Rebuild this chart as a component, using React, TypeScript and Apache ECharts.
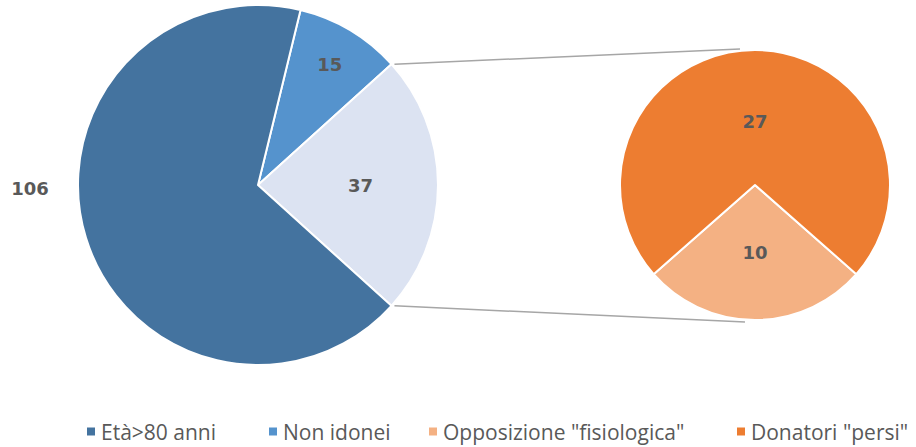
import React, { useEffect, useRef } from "react";
import * as echarts from "echarts";

const mainNames = ["Non idonei", "Altro", "Età>80 anni"];
const mainValues = [15, 37, 106];
const subNames = ['Opposizione "fisiologica"', 'Donatori "persi"'];
const subValues = [10, 27];
const legendNames = ["Età>80 anni", "Non idonei", 'Opposizione "fisiologica"', 'Donatori "persi"'];
const legendLefts = [85, 267, 427, 735];

const mainColors = ["#5593cd", "#dce3f2", "#44739f"];
const subColors = ["#f4b183", "#ed7d31"];

export default function App() {
  const ref = useRef<HTMLDivElement>(null);
  useEffect(() => {
    if (!ref.current) return;
    const chart = echarts.init(ref.current, null, { renderer: "svg" });
    const c1 = [258, 185];
    const r1 = 180;
    const c2 = [755, 185];
    const r2 = 135;
    const total1 = mainValues.reduce((a, b) => a + b, 0);
    const total2 = subValues.reduce((a, b) => a + b, 0);
    // "Altro" slice centered on 0 degrees
    const start1 = ((mainValues[1] / 2 + mainValues[0]) / total1) * 360;
    // "Opposizione" slice centered on 270 degrees
    const start2 = 360 - 90 + ((subValues[0] / 2) / total2) * 360;

    const midAngles = (vals: number[], start: number, tot: number) => {
      let a = start;
      return vals.map((v) => {
        const span = (v / tot) * 360;
        const m = a - span / 2;
        a -= span;
        return m;
      });
    };
    const mid1 = midAngles(mainValues, start1, total1);
    const mid2 = midAngles(subValues, start2, total2);
    const f1 = [0.78, 0.57, 0];
    const f2 = [0.5, 0.47];

    const edge = (deg: number) => [
      c1[0] + r1 * Math.cos((deg * Math.PI) / 180),
      c1[1] - r1 * Math.sin((deg * Math.PI) / 180),
    ];
    const altroTop = start1 - (mainValues[0] / total1) * 360;
    const altroBot = altroTop - (mainValues[1] / total1) * 360;
    const p1 = edge(altroTop);
    const p2 = edge(altroBot);

    const labelStyle = {
      fontFamily: "DejaVu Sans",
      fontWeight: "bold" as const,
      fontSize: 18,
      color: "#595959",
    };

    chart.setOption({
      animation: false,
      legend: legendNames.map((n, i) => ({
        data: [n],
        top: 421,
        left: legendLefts[i],
        itemWidth: 10,
        itemHeight: 10,
        itemGap: 0,
        icon: "rect",
        padding: 0,
        textStyle: { fontFamily: "Open Sans", fontSize: 21, color: "#595959", padding: [0, 0, 0, 0] },
        selectedMode: false,
      })),
      graphic: [
        {
          type: "line",
          shape: { x1: p1[0] + 3, y1: p1[1], x2: c2[0] - 15, y2: c2[1] - r2 - 1 },
          style: { stroke: "#a6a6a6", lineWidth: 1.5 },
        },
        {
          type: "line",
          shape: { x1: p2[0] + 3, y1: p2[1], x2: c2[0] - 10, y2: c2[1] + r2 + 2 },
          style: { stroke: "#a6a6a6", lineWidth: 1.5 },
        },
      ],
      series: [
        {
          type: "pie",
          center: c1,
          radius: r1,
          startAngle: start1,
          clockwise: true,
          avoidLabelOverlap: false,
          itemStyle: { borderColor: "#ffffff", borderWidth: 2 },
          label: { show: true, position: "inside", formatter: "{c}", ...labelStyle },
          labelLine: { show: false },
          labelLayout: (p: any) => {
            const i = p.dataIndex;
            if (i === 2) {
              return { x: c1[0] - r1 - 48, y: c1[1] + 3, align: "center", verticalAlign: "middle" };
            }
            const a = (mid1[i] * Math.PI) / 180;
            return {
              x: c1[0] + f1[i] * r1 * Math.cos(a),
              y: c1[1] - f1[i] * r1 * Math.sin(a),
              align: "center",
              verticalAlign: "middle",
            };
          },
          emphasis: { disabled: true },
          data: mainValues.map((v, i) => ({
            name: mainNames[i],
            value: v,
            itemStyle: { color: mainColors[i] },
          })),
        },
        {
          type: "pie",
          center: c2,
          radius: r2,
          startAngle: start2,
          clockwise: true,
          avoidLabelOverlap: false,
          itemStyle: { borderColor: "#ffffff", borderWidth: 2 },
          label: { show: true, position: "inside", formatter: "{c}", ...labelStyle },
          labelLine: { show: false },
          labelLayout: (p: any) => {
            const i = p.dataIndex;
            const a = (mid2[i] * Math.PI) / 180;
            return {
              x: c2[0] + f2[i] * r2 * Math.cos(a),
              y: c2[1] - f2[i] * r2 * Math.sin(a),
              align: "center",
              verticalAlign: "middle",
            };
          },
          emphasis: { disabled: true },
          data: subValues.map((v, i) => ({
            name: subNames[i],
            value: v,
            itemStyle: { color: subColors[i] },
          })),
        },
      ],
    });
    return () => chart.dispose();
  }, []);
  return (
    <div
      ref={ref}
      style={{ position: "fixed", left: 0, top: 0, width: 916, height: 447, background: "#fff" }}
    />
  );
}
